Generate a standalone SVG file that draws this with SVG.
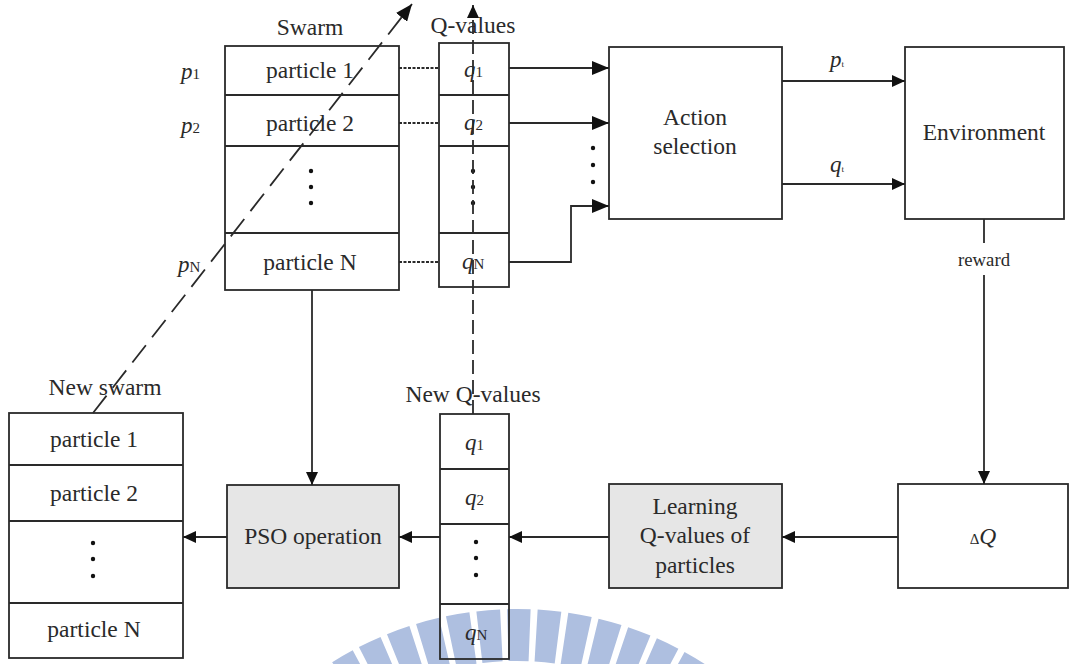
<svg xmlns="http://www.w3.org/2000/svg" width="1070" height="664" viewBox="0 0 1070 664">
<defs>
<marker id="ah" markerUnits="userSpaceOnUse" markerWidth="18" markerHeight="14" refX="17" refY="7" orient="auto">
<path d="M0,0 L17,7 L0,14 Z" fill="#111"/>
</marker>
<marker id="ahs" markerUnits="userSpaceOnUse" markerWidth="14" markerHeight="12" refX="13" refY="6" orient="auto">
<path d="M0,0 L13,6 L0,12 Z" fill="#111"/>
</marker>
</defs>
<style>
.box{fill:none;stroke:#2a2a2a;stroke-width:1.8}
.gbox{fill:#e6e6e6;stroke:#2a2a2a;stroke-width:1.8}
.ln{fill:none;stroke:#2a2a2a;stroke-width:1.8}
.t{font-family:"Liberation Serif","Times New Roman",serif;font-size:23.5px;fill:#2a2a2a;text-anchor:middle}
.it{font-family:"Liberation Serif","Times New Roman",serif;font-size:23px;font-style:italic;fill:#2a2a2a}
.sub{font-size:15px;font-style:normal}
.dot{fill:#111}
</style>
<rect width="1070" height="664" fill="#fff"/>
<g id="watermark">
<circle cx="517" cy="957" r="322" fill="none" stroke="#aebfe0" stroke-width="52" stroke-dasharray="22 6.5" stroke-dashoffset="3"/>
</g>
<g id="swarm">
<text class="t" x="310" y="35">Swarm</text>
<rect class="box" x="225" y="46" width="174" height="244"/>
<path class="ln" d="M225,95 H399 M225,146 H399 M225,233 H399"/>
<text class="t" x="310" y="78">particle 1</text>
<text class="t" x="310" y="131">particle 2</text>
<circle class="dot" cx="311" cy="171" r="2.2"/><circle class="dot" cx="311" cy="187" r="2.2"/><circle class="dot" cx="311" cy="203" r="2.2"/>
<text class="t" x="310" y="270">particle N</text>
<text class="it" x="181" y="79">p<tspan class="sub">1</tspan></text>
<text class="it" x="181" y="133">p<tspan class="sub" font-style="italic">2</tspan></text>
<text class="it" x="178" y="272">p<tspan class="sub" font-style="italic">N</tspan></text>
</g>
<g id="qvalues">
<text class="t" x="473" y="33">Q-values</text>
<rect class="box" x="439" y="43" width="70" height="244"/>
<path class="ln" d="M439,95 H509 M439,146 H509 M439,233 H509"/>
<text class="it" x="464" y="77">q<tspan class="sub">1</tspan></text>
<text class="it" x="464" y="130">q<tspan class="sub" font-style="italic">2</tspan></text>
<circle class="dot" cx="473" cy="171" r="2.2"/><circle class="dot" cx="473" cy="187" r="2.2"/><circle class="dot" cx="473" cy="203" r="2.2"/>
<text class="it" x="462" y="269">q<tspan class="sub" font-style="italic">N</tspan></text>
</g>
<g id="action">
<rect class="box" x="609" y="47" width="173" height="172"/>
<text class="t" x="695" y="125">Action</text>
<text class="t" x="695" y="154">selection</text>
</g>
<g id="environment">
<rect class="box" x="905" y="47" width="159" height="172"/>
<text class="t" x="984" y="140">Environment</text>
</g>
<g id="deltaq">
<rect class="box" x="898" y="484" width="170" height="104"/>
<text class="t" x="983" y="544"><tspan font-size="15">Δ</tspan><tspan font-style="italic">Q</tspan></text>
</g>
<g id="learning">
<rect class="gbox" x="609" y="484" width="173" height="104"/>
<text class="t" x="695" y="514">Learning</text>
<text class="t" x="695" y="543">Q-values of</text>
<text class="t" x="695" y="573">particles</text>
</g>
<g id="pso">
<rect class="gbox" x="227" y="485" width="172" height="103"/>
<text class="t" x="313" y="544">PSO operation</text>
</g>
<g id="newq">
<text class="t" x="473" y="402">New Q-values</text>
<rect class="box" x="440" y="414" width="69" height="245"/>
<path class="ln" d="M440,469 H509 M440,524 H509 M440,604 H509"/>
<text class="it" x="465" y="450">q<tspan class="sub">1</tspan></text>
<text class="it" x="465" y="505">q<tspan class="sub">2</tspan></text>
<circle class="dot" cx="476" cy="542" r="2.2"/><circle class="dot" cx="476" cy="558" r="2.2"/><circle class="dot" cx="476" cy="575" r="2.2"/>
<text class="it" x="465" y="640">q<tspan class="sub">N</tspan></text>
</g>
<g id="newswarm">
<text class="t" x="105" y="395">New swarm</text>
<rect class="box" x="9" y="413" width="174" height="245"/>
<path class="ln" d="M9,465 H183 M9,521 H183 M9,603 H183"/>
<text class="t" x="94" y="447">particle 1</text>
<text class="t" x="94" y="501">particle 2</text>
<circle class="dot" cx="93" cy="543" r="2.2"/><circle class="dot" cx="93" cy="559" r="2.2"/><circle class="dot" cx="93" cy="576" r="2.2"/>
<text class="t" x="94" y="637">particle N</text>
</g>
<g id="connectors">
<path class="ln" d="M509,68 H609" marker-end="url(#ah)"/>
<path class="ln" d="M509,123 H609" marker-end="url(#ah)"/>
<path class="ln" d="M509,262 H571 V206 H609" marker-end="url(#ah)"/>
<circle class="dot" cx="593" cy="148" r="2.2"/><circle class="dot" cx="593" cy="165" r="2.2"/><circle class="dot" cx="593" cy="182" r="2.2"/>
<path class="ln" d="M782,81 H905" marker-end="url(#ahs)"/>
<text class="it" x="830" y="67">p<tspan font-size="9" font-style="normal">t</tspan></text>
<path class="ln" d="M782,184 H905" marker-end="url(#ahs)"/>
<text class="it" x="830" y="172">q<tspan font-size="9" font-style="normal">t</tspan></text>
<path class="ln" d="M984,219 V243"/>
<text x="984" y="266" font-family="Liberation Serif, serif" font-size="18" fill="#2a2a2a" text-anchor="middle" textLength="52" lengthAdjust="spacingAndGlyphs">reward</text>
<path class="ln" d="M984,275 V484" marker-end="url(#ahs)"/>
<path class="ln" d="M898,537 H782" marker-end="url(#ahs)"/>
<path class="ln" d="M609,537 H509" marker-end="url(#ahs)"/>
<path class="ln" d="M440,537 H399" marker-end="url(#ahs)"/>
<path class="ln" d="M227,537 H183" marker-end="url(#ahs)"/>
<path class="ln" d="M312,290 V485" marker-end="url(#ahs)"/>
<path class="ln" d="M399,68 H439 M399,123 H439 M399,262 H439" stroke-dasharray="3 1.5" stroke-width="1.5"/>
<path class="ln" d="M93,413 L412,4" stroke-dasharray="22 10" marker-end="url(#ah)"/>
<path class="ln" d="M473,414 V5" stroke-dasharray="14 6" marker-end="url(#ahs)"/>
</g>
</svg>
